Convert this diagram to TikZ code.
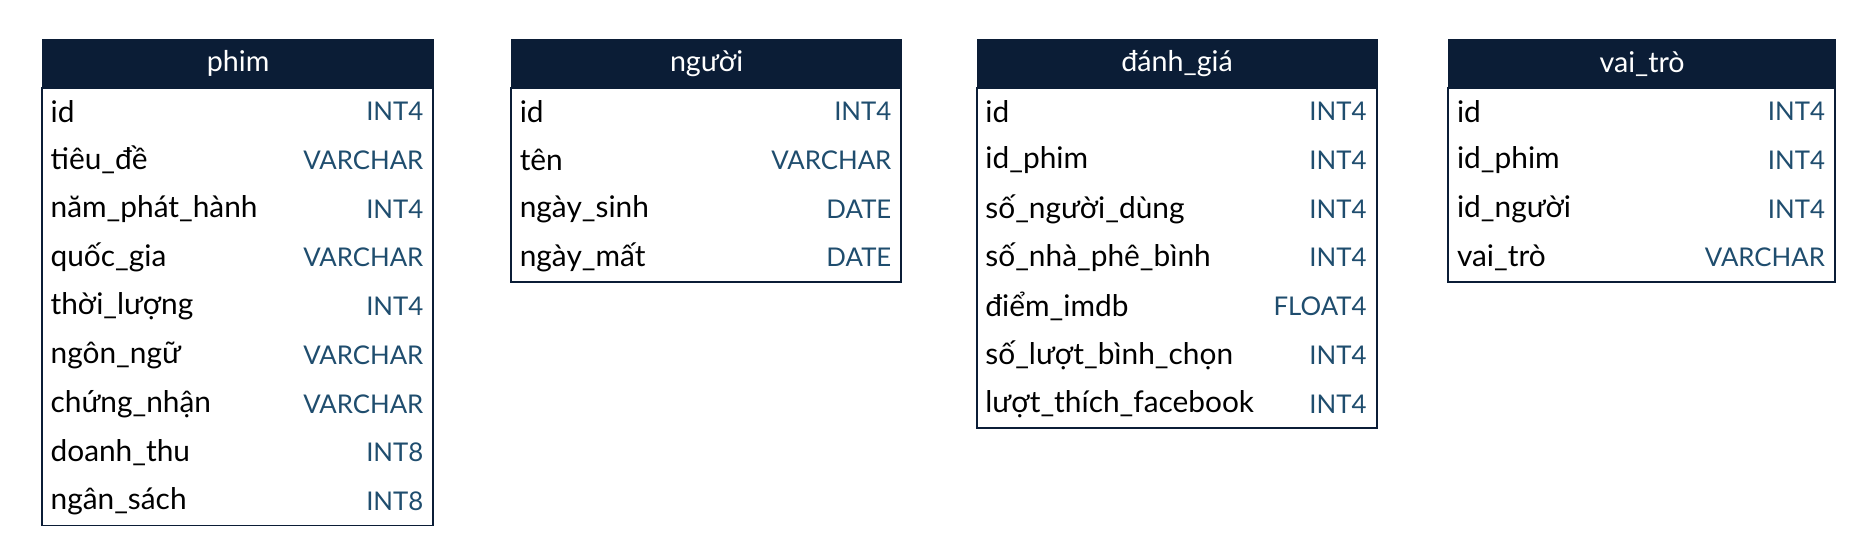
\documentclass[tikz,border=0pt]{standalone}
\usepackage{fontspec}
\setmainfont{Lato}
\definecolor{hd}{HTML}{0B1D36}
\definecolor{ty}{HTML}{1F4D6E}
\tikzset{
 hdr/.style={fill=hd,draw=hd,text=white,font=\fontsize{12}{13}\selectfont,inner sep=0pt},
 box/.style={draw=hd,line width=0.8pt},
 fld/.style={anchor=west,font=\fontsize{12.5}{13}\selectfont,text=black,inner sep=0pt},
 typ/.style={anchor=east,font=\fontsize{10.8}{12}\selectfont,text=ty,inner sep=0pt},
}
\newcommand{\mytbl}[6]{%
 \pgfmathsetmacro{\ybot}{73+#4*40.8}
 \node[hdr,minimum width={(#3-#2)*0.5pt},minimum height=20pt,anchor=north west] (#1-h) at (#2*0.5pt,-33*0.5pt) {#5};
 \draw[box] (#1-h.south west) rectangle (#3*0.5pt,-\ybot*0.5pt);
 \foreach \f/\t [count=\i] in {#6}{
   \node[fld] (#1-f\i) at (#2*0.5pt+3.5pt,{-(73+(\i-0.5)*40.8)*0.5pt}) {\f};
   \node[typ] (#1-t\i) at (#3*0.5pt-4pt,{-(73+(\i-0.5)*40.8)*0.5pt}) {\t};
 }}
\begin{document}
\begin{tikzpicture}
\useasboundingbox[fill=white] (0,0) rectangle (784pt,-234.5pt);
\mytbl{phim}{35}{363}{9}{phim}{id/INT4,tiêu\_đề/VARCHAR,năm\_phát\_hành/INT4,quốc\_gia/VARCHAR,thời\_lượng/INT4,ngôn\_ngữ/VARCHAR,chứng\_nhận/VARCHAR,doanh\_thu/INT8,ngân\_sách/INT8}
\mytbl{nguoi}{428}{755}{4}{người}{id/INT4,tên/VARCHAR,ngày\_sinh/DATE,ngày\_mất/DATE}
\mytbl{dg}{818}{1153}{7}{đánh\_giá}{id/INT4,id\_phim/INT4,số\_người\_dùng/INT4,số\_nhà\_phê\_bình/INT4,điểm\_imdb/FLOAT4,số\_lượt\_bình\_chọn/INT4,lượt\_thích\_facebook/INT4}
\mytbl{vt}{1213}{1537}{4}{vai\_trò}{id/INT4,id\_phim/INT4,id\_người/INT4,vai\_trò/VARCHAR}
\end{tikzpicture}
\end{document}
